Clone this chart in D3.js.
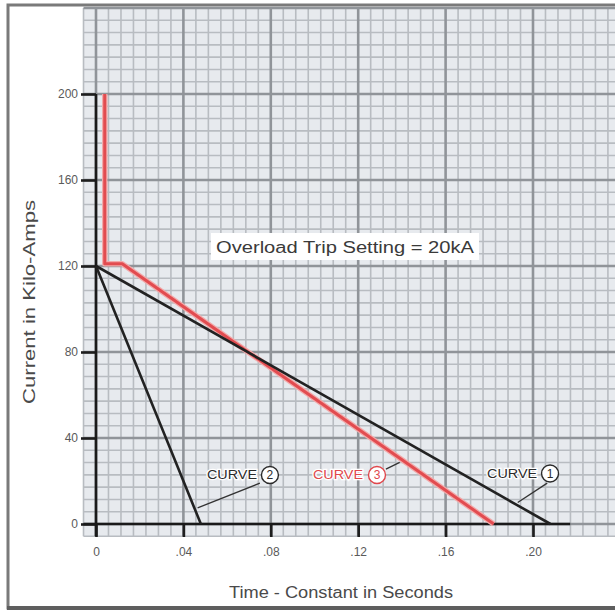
<!DOCTYPE html>
<html>
<head>
<meta charset="utf-8">
<script src="https://cdn.jsdelivr.net/npm/d3@7/dist/d3.min.js"></script>
<style>
  html, body { margin: 0; padding: 0; background: #ffffff; }
  svg { display: block; }
</style>
</head>
<body>
<svg id="chart" width="615" height="612"></svg>
<script>
// ---------- data ----------
const xTicks = [0, 0.04, 0.08, 0.12, 0.16, 0.20];
const xTickLabels = ["0", ".04", ".08", ".12", ".16", ".20"];
const yTicks = [0, 40, 80, 120, 160, 200];
const yTickLabels = ["0", "40", "80", "120", "160", "200"];

const curve1Time = [0, 0.208];
const curve1Current = [120, 0];
const curve2Time = [0, 0.048];
const curve2Current = [120, 0];
const curve3Time = [0.004, 0.004, 0.012, 0.182];
const curve3Current = [200, 121, 121, 0];

const curveLabels = ["CURVE", "CURVE", "CURVE"];
const curveNumbers = ["1", "2", "3"];

const annotationText = "Overload Trip Setting = 20kA";
const xTitle = "Time - Constant in Seconds";
const yTitle = "Current in Kilo-Amps";

// ---------- layout ----------
const svg = d3.select("#chart");
const FONT = "'Liberation Sans', Arial, sans-serif";

const x = d3.scaleLinear().domain([0, 0.20]).range([96, 533]);
const y = d3.scaleLinear().domain([0, 200]).range([524, 94]);

// outer frame
svg.append("rect").attr("x", 8).attr("y", 5).attr("width", 620).attr("height", 603)
  .attr("fill", "#ffffff").attr("stroke", "#7a7a7a").attr("stroke-width", 3);
svg.append("line").attr("x1", 7).attr("x2", 615).attr("y1", 608).attr("y2", 608)
  .attr("stroke", "#5e5e5e").attr("stroke-width", 4);

// graph paper
const dx = 0.04 / 7, dy = 40 / 7;
const gLeft = x(-dx), gRight = 615, gTop = y(240), gBottom = y(-dy);
svg.append("rect").attr("x", gLeft).attr("y", gTop)
  .attr("width", gRight - gLeft).attr("height", gBottom - gTop)
  .attr("fill", "#e7eaee");

const grid = svg.append("g");
const vIdx = d3.range(-1, 44).filter(i => x(i * dx) <= gRight + 1);
const hIdx = d3.range(-1, 43).filter(i => i * dy <= 240.001);
// minor first, then major on top
[false, true].forEach(major => {
  grid.selectAll(null).data(vIdx.filter(i => (i % 7 === 0) === major)).join("line")
    .attr("x1", i => x(i * dx)).attr("x2", i => x(i * dx))
    .attr("y1", gTop).attr("y2", gBottom)
    .attr("stroke", major ? "#909499" : "#b8bcc1")
    .attr("stroke-width", major ? 2.6 : 1.6);
  grid.selectAll(null).data(hIdx.filter(i => (i % 7 === 0) === major)).join("line")
    .attr("y1", i => y(i * dy)).attr("y2", i => y(i * dy))
    .attr("x1", gLeft).attr("x2", gRight)
    .attr("stroke", major ? "#909499" : "#b8bcc1")
    .attr("stroke-width", major ? 2.6 : 1.6);
});

// axes
const yAxis = d3.axisLeft(y).tickValues(yTicks)
  .tickFormat((d, i) => yTickLabels[i]).tickSize(15).tickPadding(3);
const gy = svg.append("g").attr("transform", `translate(${x(0)},0)`).call(yAxis);
const xAxis = d3.axisBottom(x).tickValues(xTicks)
  .tickFormat((d, i) => xTickLabels[i]).tickSize(13).tickPadding(10);
const gx = svg.append("g").attr("transform", `translate(0,${y(0)})`).call(xAxis);
[gx, gy].forEach(g => {
  g.select(".domain").remove();
  g.selectAll(".tick line").attr("stroke", "#1e1e1e").attr("stroke-width", 2.6);
  g.selectAll(".tick text").attr("fill", "#5a5a5a").attr("font-size", 12)
    .attr("font-family", FONT);
});
// axis lines
svg.append("line").attr("x1", x(0)).attr("x2", x(0))
  .attr("y1", y(200)).attr("y2", gBottom)
  .attr("stroke", "#1a1a1a").attr("stroke-width", 2.6);
svg.append("line").attr("x1", gLeft).attr("x2", x(0.217))
  .attr("y1", y(0)).attr("y2", y(0))
  .attr("stroke", "#1a1a1a").attr("stroke-width", 2.6);

// curves
const line = d3.line().x(d => x(d[0])).y(d => y(d[1]));
const c1 = curve1Time.map((t, i) => [t, curve1Current[i]]);
const c2 = curve2Time.map((t, i) => [t, curve2Current[i]]);
const c3 = curve3Time.map((t, i) => [t, curve3Current[i]]);

svg.append("path").attr("d", line(c3)).attr("fill", "none")
  .attr("stroke", "#f2aaaa").attr("stroke-width", 5.5).attr("stroke-linejoin", "round");
svg.append("path").attr("d", line(c3)).attr("fill", "none")
  .attr("stroke", "#e24c50").attr("stroke-width", 3).attr("stroke-linejoin", "round");
[c1, c2].forEach(c => {
  svg.append("path").attr("d", line(c)).attr("fill", "none")
    .attr("stroke", "#222").attr("stroke-width", 2.6);
});

// curve labels (positions in data space)
const labelSpecs = [
  { text: 0.179, circ: 0.2078, v: 23.5, color: "#2a2a2a", lead: [[0.2065, 19], [0.193, 10]] },
  { text: 0.0508, circ: 0.0796, v: 22.8, color: "#2a2a2a", lead: [[0.075, 19], [0.0465, 7.5]] },
  { text: 0.0993, circ: 0.1286, v: 22.8, color: "#e0474c", lead: [[0.1327, 25.5], [0.139, 28.7]] }
];
labelSpecs.forEach((s, i) => {
  const g = svg.append("g");
  g.append("line")
    .attr("x1", x(s.lead[0][0])).attr("y1", y(s.lead[0][1]))
    .attr("x2", x(s.lead[1][0])).attr("y2", y(s.lead[1][1]))
    .attr("stroke", "#333").attr("stroke-width", 1.3);
  g.append("text").attr("x", x(s.text)).attr("y", y(s.v)).attr("dy", "0.36em")
    .attr("font-family", FONT).attr("font-size", 12.5)
    .attr("textLength", 50).attr("lengthAdjust", "spacingAndGlyphs")
    .attr("fill", s.color).attr("stroke", "#ffffff").attr("stroke-width", 2.5)
    .attr("paint-order", "stroke").text(curveLabels[i]);
  g.append("circle").attr("cx", x(s.circ)).attr("cy", y(s.v)).attr("r", 8.5)
    .attr("fill", "#ffffff").attr("stroke", s.color).attr("stroke-width", 1.4);
  g.append("text").attr("x", x(s.circ)).attr("y", y(s.v)).attr("dy", "0.36em")
    .attr("text-anchor", "middle").attr("font-family", FONT).attr("font-size", 12)
    .attr("fill", s.color).text(curveNumbers[i]);
});

// annotation box
svg.append("rect").attr("x", 211).attr("y", 233).attr("width", 268).attr("height", 27)
  .attr("fill", "#ffffff");
svg.append("text").attr("x", 345).attr("y", 247).attr("dy", "0.36em")
  .attr("text-anchor", "middle").attr("font-family", FONT).attr("font-size", 16)
  .attr("textLength", 258).attr("lengthAdjust", "spacingAndGlyphs")
  .attr("fill", "#3a3a3a").text(annotationText);

// axis titles
svg.append("text").attr("x", 341).attr("y", 592).attr("dy", "0.36em")
  .attr("text-anchor", "middle").attr("font-family", FONT).attr("font-size", 16)
  .attr("textLength", 224).attr("lengthAdjust", "spacingAndGlyphs")
  .attr("fill", "#4a4a4a").text(xTitle);
svg.append("text").attr("transform", "translate(29,302) rotate(-90)").attr("dy", "0.36em")
  .attr("text-anchor", "middle").attr("font-family", FONT).attr("font-size", 16)
  .attr("textLength", 204).attr("lengthAdjust", "spacingAndGlyphs")
  .attr("fill", "#4a4a4a").text(yTitle);
</script>
</body>
</html>
